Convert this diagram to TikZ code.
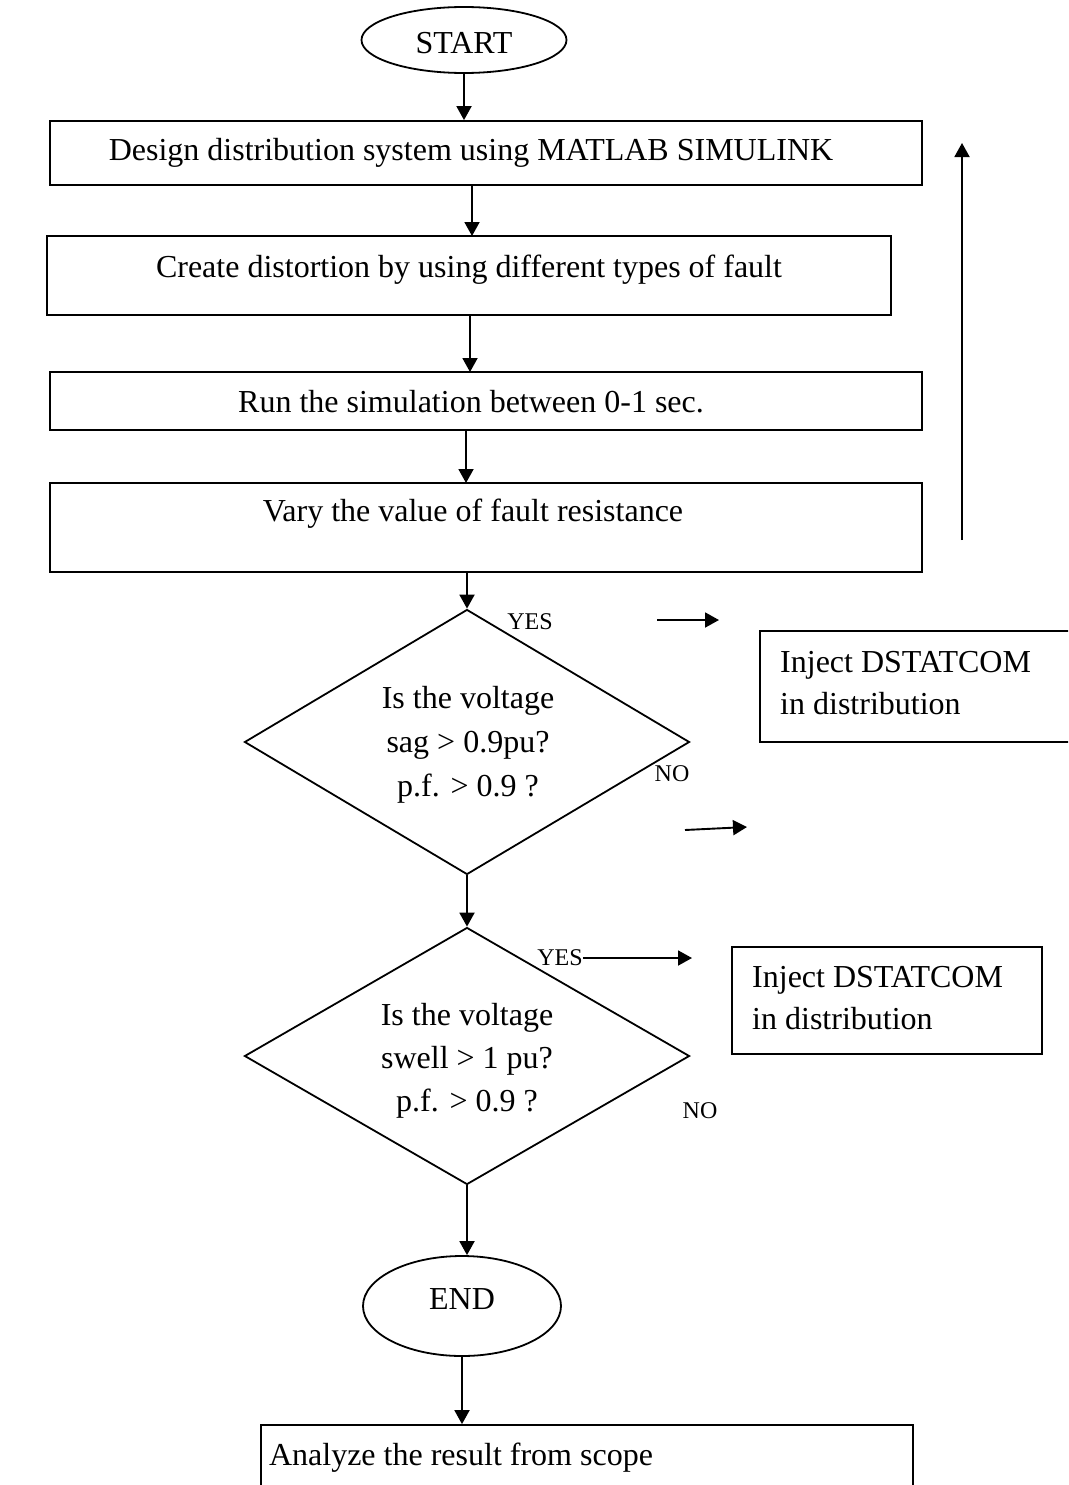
\documentclass[tikz,border=0pt]{standalone}
\usepackage{fontspec}
\setmainfont{Liberation Serif}
\usetikzlibrary{shapes.geometric,arrows.meta}
\begin{document}
\begin{tikzpicture}[x=1pt,y=-1pt,
  every node/.style={font=\fontsize{32}{42}\selectfont},
  shp/.style={draw,line width=1.8pt,inner sep=0pt},
  rbox/.style={shp,rectangle},
  term/.style={shp,ellipse},
  dec/.style={shp,diamond},
  txt/.style={inner sep=0pt},
  lbl/.style={inner sep=0pt,font=\fontsize{24}{28}\selectfont},
  arr/.style={line width=1.9pt,-{Triangle[length=14pt,width=15pt]}}
]
\useasboundingbox (0,0) rectangle (1068,1485);
\clip (0,0) rectangle (1068,1485);

% terminals
\node[term,minimum width=205,minimum height=66] (start) at (464,40) {};
\node[txt] (starttxt) at (464,43) {START};
\node[term,minimum width=198,minimum height=100] (end) at (462,1306) {};
\node[txt] (endtxt) at (462,1299) {END};

% process boxes
\node[rbox,minimum width=872,minimum height=64] (b1) at (486,153) {};
\node[txt] (t1) at (471,153) {Design distribution system using MATLAB SIMULINK};
\node[rbox,minimum width=844,minimum height=79] (b2) at (469,275.5) {};
\node[txt] (t2) at (469,270) {Create distortion by using different types of fault};
\node[rbox,minimum width=872,minimum height=58] (b3) at (486,401) {};
\node[txt] (t3) at (471,402) {Run the simulation between 0-1 sec.};
\node[rbox,minimum width=872,minimum height=89] (b4) at (486,527.5) {};
\node[txt] (t4) at (473,514) {Vary the value of fault resistance};
\node[rbox,minimum width=652,minimum height=120] (b5) at (587,1485) {};
\node[txt] (t5) at (461,1458) {Analyze the result from scope};

% decisions
\node[dec,minimum width=445,minimum height=265] (d1) at (467,742) {};
\node[txt,align=center,font=\fontsize{32}{44}\selectfont] (d1t) at (468,745) {Is the voltage\\sag > 0.9pu?\\p.f. > 0.9 ?};
\node[dec,minimum width=445,minimum height=257] (d2) at (467,1056) {};
\node[txt,align=center,font=\fontsize{32}{43}\selectfont] (d2t) at (467,1061) {Is the voltage\\swell > 1 pu?\\p.f. > 0.9 ?};

% inject boxes
\node[rbox,minimum width=330,minimum height=111] (r1) at (925,686.5) {};
\node[txt,align=left,anchor=west] (r1t) at (780,683) {Inject DSTATCOM\\in distribution};
\node[rbox,minimum width=310,minimum height=107] (r2) at (887,1000.5) {};
\node[txt,align=left,anchor=west] (r2t) at (752,998) {Inject DSTATCOM\\in distribution};

% labels
\node[lbl] (yes1) at (530,622) {YES};
\node[lbl] (no1) at (672,774) {NO};
\node[lbl] (yes2) at (560,958) {YES};
\node[lbl] (no2) at (700,1111) {NO};

% free arrow ends
\coordinate (a1s) at (657,620);
\coordinate (a1e) at (719,620);
\coordinate (a2s) at (685,830);
\coordinate (a2e) at (747,827);
\coordinate (a3e) at (692,958);
\coordinate (ups) at (962,540);
\coordinate (upe) at (962,143);

% main flow
\draw[arr] (start.south) -- (start.south |- b1.north);
\draw[arr] (472,185) -- (472,236);
\draw[arr] (470,315) -- (470,372);
\draw[arr] (466,430) -- (466,483);
\draw[arr] (d1.north |- b4.south) -- (d1.north);
\draw[arr] (d1.south) -- (d2.north);
\draw[arr] (d2.south) -- (d2.south |- end.north);
\draw[arr] (end.south) -- (end.south |- b5.north);

% side arrows
\draw[arr] (a1s) -- (a1e);
\draw[arr] (a2s) -- (a2e);
\draw[arr] (yes2.east) -- (a3e);
\draw[arr] (ups) -- (upe);
\end{tikzpicture}
\end{document}
